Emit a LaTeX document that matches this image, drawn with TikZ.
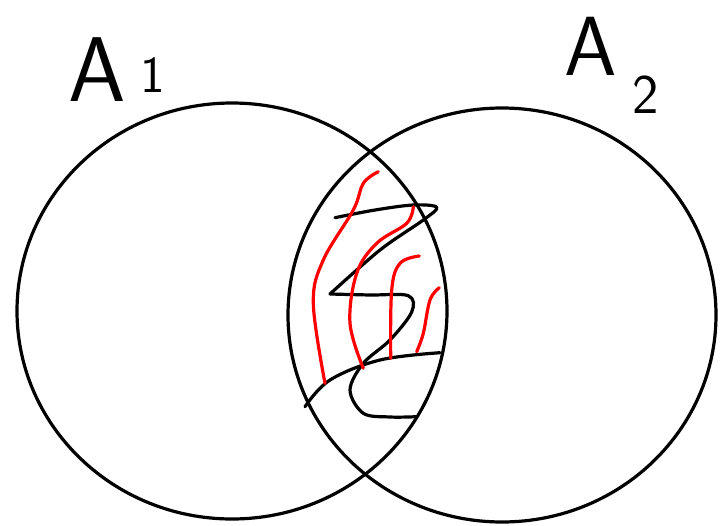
\documentclass[tikz,border=0pt]{standalone}
\begin{document}
\begin{tikzpicture}[x=1pt,y=-1pt,
  ink/.style={line width=3.2pt,line cap=round,line join=round},
  redink/.style={ink,red},
  lbl/.style={inner sep=0pt}]
\useasboundingbox (0,0) rectangle (723,525);
% circles
\draw[ink] (232,311) ellipse [x radius=215, y radius=208];
\draw[ink] (502,315) ellipse [x radius=214, y radius=207];
% labels
\node[lbl,font=\sffamily\fontsize{92}{92}\selectfont] (a1) at (97,70) {A};
\node[lbl,font=\sffamily\fontsize{52}{52}\selectfont] (n1) at (153,75) {1};
\node[lbl,font=\sffamily\fontsize{84}{84}\selectfont] (a2) at (591,46) {A};
\node[lbl,font=\sffamily\fontsize{56}{56}\selectfont] (n2) at (646,95) {2};
% black zigzag
\draw[ink] plot[smooth,tension=0.55] coordinates{(335,217.7) (375,210) (413.3,205) (436.7,207.3) (423.3,220) (380,250) (330,294)};
\draw[ink] plot[smooth,tension=0.55] coordinates{(330,294) (370,295) (408.3,295.7) (411.7,312) (390,340) (363.3,363.3) (350,390) (363.3,413.3) (390,417) (416.7,416.7)};
\draw[ink] plot[smooth,tension=0.6] coordinates{(305,406.7) (330,380) (380,360) (440,352.7)};
% red strokes
\draw[redink] plot[smooth,tension=0.6] coordinates{(378.3,171.7) (363.3,183.3) (353.3,210) (323.3,260) (313.3,303.3) (325,383.3)};
\draw[redink] plot[smooth,tension=0.6] coordinates{(413.3,206.7) (406.7,223.3) (376.7,243.3) (356.7,273.3) (350,323.3) (363.3,368.3)};
\draw[redink] plot[smooth,tension=0.6] coordinates{(419.3,256) (400,263.3) (391.7,290) (390.7,358.3)};
\draw[redink] plot[smooth,tension=0.6] coordinates{(439.3,287.7) (430,300) (423.3,333.3) (416.7,351.7)};
\end{tikzpicture}
\end{document}
